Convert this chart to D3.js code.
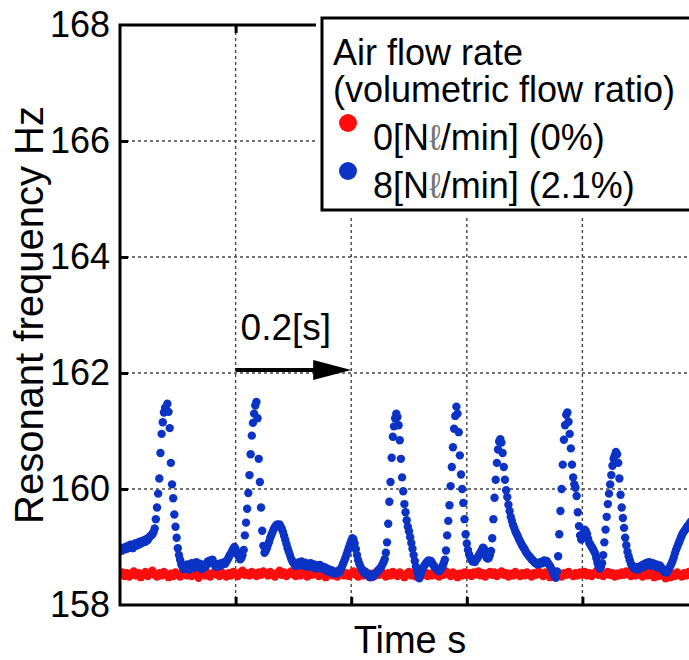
<!DOCTYPE html>
<html lang="en">
<head>
<meta charset="UTF-8">
<title>Resonant frequency vs time</title>
<script src="https://d3js.org/d3.v7.min.js"></script>
<style>
  body { margin: 0; background: #fff; }
  svg { display: block; font-family: "Liberation Sans", Arial, sans-serif; }
</style>
</head>
<body>
<div id="chart"></div>
<script>
// sampling interval of each record, seconds
const blueStep = 0.002;
const redStep = 0.004;

// 8 Nl/min (2.1%) record, Hz, one value per blueStep
const blueHz = [
  158.93, 158.97, 158.94, 158.99, 158.96, 159.00, 158.97, 159.02, 158.99, 159.04, 159.01, 158.98, 159.03, 159.06, 159.02, 159.07, 159.04, 159.09, 159.06, 159.10, 159.08, 159.12, 159.09, 159.14, 159.12,
  159.16, 159.18, 159.20, 159.22, 159.26, 159.32, 159.48, 159.68, 159.92, 160.18, 160.62, 160.95, 161.15, 161.32, 161.40, 161.36, 161.47, 161.33, 161.05, 160.45, 160.08, 159.84, 159.56, 159.35, 159.16,
  158.98, 158.86, 158.78, 158.70, 158.66, 158.62, 158.68, 158.64, 158.70, 158.66, 158.61, 158.67, 158.72, 158.68, 158.64, 158.70, 158.74, 158.69, 158.65, 158.71, 158.66, 158.62, 158.67, 158.70, 158.66,
  158.71, 158.75, 158.72, 158.77, 158.74, 158.78, 158.73, 158.69, 158.66, 158.70, 158.67, 158.71, 158.68, 158.72, 158.70, 158.74, 158.71, 158.75, 158.78, 158.82, 158.86, 158.89, 158.93, 158.97, 159.00,
  158.96, 158.91, 158.86, 158.82, 158.79, 158.81, 158.86, 158.95, 159.20, 159.42, 159.66, 159.93, 160.24, 160.60, 160.92, 161.14, 161.30, 161.44, 161.50, 161.22, 160.52, 160.12, 159.68, 159.28, 159.02,
  158.90, 158.93, 158.98, 159.04, 159.09, 159.16, 159.21, 159.26, 159.31, 159.34, 159.37, 159.39, 159.37, 159.39, 159.35, 159.31, 159.26, 159.19, 159.12, 159.05, 158.98, 158.92, 158.86, 158.80, 158.76,
  158.73, 158.70, 158.67, 158.72, 158.68, 158.74, 158.70, 158.75, 158.71, 158.68, 158.73, 158.69, 158.66, 158.71, 158.67, 158.72, 158.69, 158.65, 158.70, 158.67, 158.63, 158.68, 158.65, 158.69, 158.64,
  158.66, 158.62, 158.65, 158.60, 158.63, 158.58, 158.61, 158.57, 158.60, 158.55, 158.58, 158.54, 158.57, 158.55, 158.59, 158.57, 158.62, 158.66, 158.71, 158.76, 158.81, 158.87, 158.93, 158.99, 159.05,
  159.10, 159.15, 159.13, 159.06, 158.96, 158.86, 158.77, 158.71, 158.66, 158.62, 158.59, 158.56, 158.58, 158.54, 158.51, 158.54, 158.50, 158.48, 158.51, 158.49, 158.52, 158.54, 158.56, 158.59, 158.61,
  158.63, 158.66, 158.70, 158.74, 158.79, 158.90, 159.08, 159.40, 159.78, 160.12, 160.54, 160.90, 161.08, 161.22, 161.30, 161.24, 161.10, 160.84, 160.52, 160.20, 159.96, 159.74, 159.60, 159.46, 159.35,
  159.27, 159.17, 159.07, 158.97, 158.86, 158.76, 158.66, 158.58, 158.50, 158.46, 158.52, 158.58, 158.63, 158.67, 158.70, 158.73, 158.75, 158.77, 158.74, 158.76, 158.72, 158.69, 158.66, 158.64, 158.62,
  158.60, 158.58, 158.61, 158.63, 158.67, 158.72, 158.78, 158.94, 159.20, 159.45, 159.72, 160.05, 160.38, 160.72, 161.04, 161.26, 161.42, 161.30, 160.98, 160.58, 160.25, 160.00, 159.76, 159.48, 159.22,
  159.06, 158.95, 158.87, 158.82, 158.78, 158.75, 158.77, 158.74, 158.78, 158.80, 158.84, 158.88, 158.91, 158.95, 158.99, 158.96, 158.88, 158.82, 158.80, 158.81, 158.86, 158.93, 159.15, 159.48, 159.85,
  160.16, 160.45, 160.68, 160.82, 160.86, 160.80, 160.62, 160.38, 160.16, 159.98, 159.86, 159.73, 159.62, 159.52, 159.45, 159.38, 159.33, 159.27, 159.23, 159.19, 159.14, 159.10, 159.06, 159.02, 158.99,
  158.96, 158.92, 158.89, 158.86, 158.84, 158.82, 158.79, 158.77, 158.75, 158.73, 158.72, 158.70, 158.73, 158.71, 158.74, 158.72, 158.75, 158.77, 158.74, 158.76, 158.73, 158.70, 158.67, 158.63, 158.59,
  158.54, 158.49, 158.47, 158.58, 158.84, 159.22, 159.62, 160.00, 160.42, 160.85, 161.10, 161.28, 161.32, 161.16, 160.95, 160.70, 160.42, 160.20, 160.08, 160.02, 159.88, 159.60, 159.36, 159.20, 159.13,
  159.16, 159.24, 159.30, 159.27, 159.22, 159.14, 159.07, 159.04, 159.00, 158.97, 158.93, 158.89, 158.81, 158.73, 158.67, 158.63, 158.65, 158.72, 158.86, 159.08, 159.30, 159.52, 159.74, 159.92, 160.08,
  160.24, 160.40, 160.52, 160.58, 160.64, 160.60, 160.45, 160.18, 159.90, 159.68, 159.50, 159.33, 159.16, 159.03, 158.92, 158.84, 158.77, 158.71, 158.67, 158.64, 158.66, 158.62, 158.65, 158.61, 158.64,
  158.67, 158.64, 158.69, 158.66, 158.71, 158.68, 158.73, 158.70, 158.74, 158.71, 158.68, 158.72, 158.69, 158.66, 158.70, 158.67, 158.64, 158.68, 158.65, 158.62, 158.60, 158.57, 158.59, 158.56, 158.60,
  158.63, 158.67, 158.71, 158.76, 158.82, 158.89, 158.95, 159.00, 159.05, 159.10, 159.15, 159.20, 159.24, 159.27, 159.30, 159.33, 159.36, 159.38, 159.41, 159.44
];

// 0 Nl/min (0%) record, Hz, one value per redStep
const redHz = [
  158.52, 158.56, 158.50, 158.55, 158.49, 158.54, 158.58, 158.51, 158.55, 158.48, 158.53, 158.57, 158.50, 158.54, 158.59, 158.52, 158.49, 158.55, 158.51, 158.57, 158.53, 158.48, 158.54, 158.50, 158.56,
  158.52, 158.49, 158.55, 158.58, 158.51, 158.54, 158.50, 158.56, 158.53, 158.47, 158.52, 158.57, 158.51, 158.55, 158.49, 158.54, 158.58, 158.52, 158.50, 158.56, 158.53, 158.49, 158.55, 158.51, 158.57,
  158.54, 158.50, 158.56, 158.59, 158.52, 158.55, 158.51, 158.57, 158.54, 158.50, 158.56, 158.52, 158.58, 158.55, 158.51, 158.57, 158.53, 158.49, 158.55, 158.59, 158.52, 158.56, 158.50, 158.54, 158.58,
  158.53, 158.50, 158.55, 158.51, 158.57, 158.54, 158.49, 158.55, 158.52, 158.58, 158.53, 158.50, 158.56, 158.52, 158.48, 158.54, 158.57, 158.51, 158.55, 158.49, 158.53, 158.57, 158.51, 158.55, 158.50,
  158.54, 158.58, 158.52, 158.49, 158.55, 158.51, 158.57, 158.53, 158.48, 158.54, 158.50, 158.56, 158.52, 158.58, 158.53, 158.49, 158.55, 158.51, 158.57, 158.54, 158.50, 158.56, 158.52, 158.48, 158.54,
  158.57, 158.51, 158.55, 158.49, 158.53, 158.58, 158.52, 158.56, 158.50, 158.54, 158.51, 158.57, 158.53, 158.49, 158.55, 158.52, 158.58, 158.54, 158.50, 158.56, 158.53, 158.48, 158.54, 158.51, 158.56,
  158.52, 158.55, 158.50, 158.56, 158.53, 158.58, 158.51, 158.55, 158.49, 158.54, 158.57, 158.52, 158.56, 158.50, 158.53, 158.58, 158.52, 158.55, 158.49, 158.54, 158.51, 158.57, 158.53, 158.50, 158.55,
  158.51, 158.56, 158.53, 158.49, 158.55, 158.52, 158.58, 158.54, 158.50, 158.56, 158.52, 158.48, 158.54, 158.51, 158.57, 158.53, 158.49, 158.55, 158.52, 158.57, 158.53, 158.50, 158.55, 158.51, 158.56,
  158.53, 158.57, 158.51, 158.55, 158.50, 158.54, 158.58, 158.52, 158.56, 158.50, 158.53, 158.57, 158.52, 158.55, 158.49, 158.54, 158.51, 158.56, 158.52, 158.58, 158.54, 158.50, 158.55, 158.51, 158.57,
  158.53, 158.49, 158.55, 158.51, 158.56, 158.52, 158.48, 158.54, 158.50, 158.55, 158.51, 158.46, 158.52, 158.48, 158.54, 158.50, 158.56, 158.52, 158.49, 158.55, 158.51, 158.57, 158.53, 158.50, 158.55
];

const yTicks = [158, 160, 162, 164, 166, 168];
const xTicks = [0.2, 0.4, 0.6, 0.8];
const legendTitle = ["Air flow rate", "(volumetric flow ratio)"];
const legendItems = [
  { pre: "0[N", post: "/min] (0%)", color: "#ff0d0d" },
  { pre: "8[N", post: "/min] (2.1%)", color: "#0b33c6" }
];
const arrowFrom = 0.2, arrowTo = 0.4, arrowHz = 162.05;

const width = 689, height = 660;
const margin = { top: 25, left: 120 };
const dotR = 4.2;

const x = d3.scaleLinear().domain([0, 1]).range([margin.left, 698]);
const y = d3.scaleLinear().domain([158, 168]).range([605, margin.top]);

const svg = d3.select("#chart").append("svg")
  .attr("width", width).attr("height", height);

svg.append("rect").attr("width", width).attr("height", height).attr("fill", "#fff");

svg.append("clipPath").attr("id", "plot-clip")
  .append("rect")
  .attr("x", x(0)).attr("y", y(168))
  .attr("width", x(1) - x(0)).attr("height", y(158) - y(168));

// dotted grid
const grid = svg.append("g")
  .attr("stroke", "#444").attr("stroke-width", 1.4).attr("stroke-dasharray", "3,3");
grid.selectAll(".gx").data(xTicks).join("line")
  .attr("x1", d => x(d)).attr("x2", d => x(d))
  .attr("y1", y(158)).attr("y2", y(168));
grid.selectAll(".gy").data(yTicks.slice(1, -1)).join("line")
  .attr("x1", x(0)).attr("x2", x(1))
  .attr("y1", d => y(d)).attr("y2", d => y(d));

// data points: red first, blue on top
const dots = svg.append("g").attr("clip-path", "url(#plot-clip)");
dots.append("g").selectAll("circle").data(redHz).join("circle")
  .attr("cx", (d, i) => x(i * redStep))
  .attr("cy", d => y(d))
  .attr("r", dotR)
  .attr("fill", legendItems[0].color);
dots.append("g").selectAll("circle").data(blueHz).join("circle")
  .attr("cx", (d, i) => x(i * blueStep))
  .attr("cy", d => y(d))
  .attr("r", dotR)
  .attr("fill", legendItems[1].color);

// axes with inward ticks
const yAxis = svg.append("g")
  .attr("transform", `translate(${x(0)},0)`)
  .call(d3.axisLeft(y).tickValues(yTicks).tickSize(-8).tickPadding(10).tickFormat(d3.format("d")));
const xAxisB = svg.append("g")
  .attr("transform", `translate(0,${y(158)})`)
  .call(d3.axisBottom(x).tickValues(xTicks).tickSize(-8).tickFormat(""));
const xAxisT = svg.append("g")
  .attr("transform", `translate(0,${y(168)})`)
  .call(d3.axisTop(x).tickValues(xTicks).tickSize(-8).tickFormat(""));
[yAxis, xAxisB, xAxisT].forEach(g => {
  g.select(".domain").remove();
  g.selectAll(".tick line").attr("stroke", "#000").attr("stroke-width", 3);
});
yAxis.selectAll(".tick line").filter(d => d === 158 || d === 168).remove();
yAxis.selectAll("text")
  .attr("font-family", "'Liberation Sans', Arial, sans-serif")
  .attr("font-size", 36).attr("fill", "#000");

svg.append("rect")
  .attr("x", x(0)).attr("y", y(168))
  .attr("width", x(1) - x(0)).attr("height", y(158) - y(168))
  .attr("fill", "none").attr("stroke", "#000").attr("stroke-width", 3);

// axis titles
svg.append("text")
  .attr("transform", "translate(43,315) rotate(-90)")
  .attr("text-anchor", "middle").attr("font-size", 40)
  .text("Resonant frequency Hz");
svg.append("text")
  .attr("x", 410).attr("y", 653)
  .attr("text-anchor", "middle").attr("font-size", 38)
  .text("Time s");

// 0.2 s arrow
const ay = y(arrowHz), ax0 = x(arrowFrom), ax1 = x(arrowTo);
svg.append("line")
  .attr("x1", ax0).attr("x2", ax1 - 30).attr("y1", ay).attr("y2", ay)
  .attr("stroke", "#000").attr("stroke-width", 4);
svg.append("path")
  .attr("d", `M${ax1},${ay} L${ax1 - 38},${ay - 10} L${ax1 - 38},${ay + 10} Z`)
  .attr("fill", "#000");
svg.append("text")
  .attr("x", ax0 + 5).attr("y", ay - 30)
  .attr("font-size", 37)
  .text("0.2[s]");

// legend
const lg = svg.append("g");
lg.append("rect").attr("x", 316).attr("y", 12).attr("width", 400).attr("height", 204).attr("fill", "#fff");
lg.append("rect").attr("x", 322).attr("y", 18).attr("width", 400).attr("height", 192)
  .attr("fill", "#fff").attr("stroke", "#000").attr("stroke-width", 3);
lg.selectAll(".lt").data(legendTitle).join("text")
  .attr("x", 333).attr("y", (d, i) => 65 + i * 37)
  .attr("font-size", 36)
  .text(d => d);
const items = lg.selectAll(".li").data(legendItems).join("g")
  .attr("transform", (d, i) => `translate(0,${i * 48})`);
items.append("circle").attr("cx", 348).attr("cy", 123).attr("r", 9).attr("fill", d => d.color);
const itemText = items.append("text").attr("x", 373).attr("y", 150).attr("font-size", 36);
itemText.append("tspan").text(d => d.pre);
itemText.append("tspan").attr("fill", "#777").text("\u2113");
itemText.append("tspan").text(d => d.post);
</script>
</body>
</html>
